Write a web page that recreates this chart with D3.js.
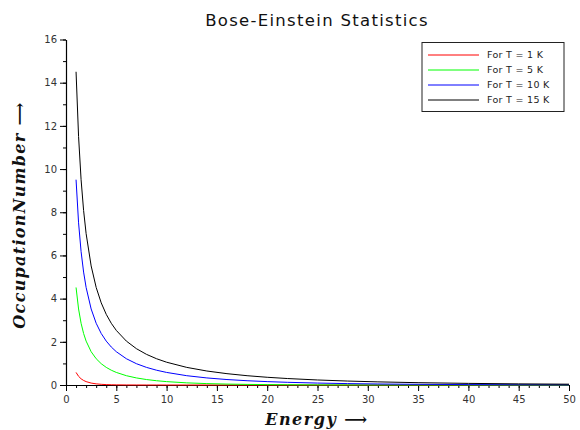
<!DOCTYPE html>
<html><head><meta charset="utf-8">
<script src="https://cdn.jsdelivr.net/npm/d3@7"></script>
<style>body{margin:0;background:#fff}svg{display:block}</style>
</head><body>
<svg id="c" width="580" height="430"></svg>
<script>
const energies = [1,1.25,1.5,1.75,2,2.5,3,3.5,4,4.5,5,6,7,8,9,10,12,14,16,18,20,22,25,28,31,35,40,45,50];
const seriesNames = ["For T = 1 K","For T = 5 K","For T = 10 K","For T = 15 K"];
const seriesColors = ["#ff0000","#00ff00","#0000ff","#000000"];
const valuesT1  = [0.5820,0.4016,0.2872,0.2103,0.1565,0.0894,0.0524,0.0311,0.0187,0.0112,0.0068,0.0025,0.0009,0.0003,0.0001,0,0,0,0,0,0,0,0,0,0,0,0,0,0];
const valuesT5  = [4.5167,3.5208,2.8583,2.3862,2.0332,1.5415,1.2165,0.9864,0.8160,0.6851,0.5820,0.4310,0.3273,0.2530,0.1980,0.1565,0.0998,0.0647,0.0425,0.0281,0.0187,0.0124,0.0068,0.0037,0.0020,0.0009,0.0003,0.0001,0];
const valuesT10 = [9.5083,7.5104,6.1792,5.2289,4.5167,3.5208,2.8583,2.3862,2.0332,1.7596,1.5415,1.2165,0.9864,0.8160,0.6851,0.5820,0.4310,0.3273,0.2530,0.1980,0.1565,0.1246,0.0894,0.0647,0.0472,0.0311,0.0187,0.0112,0.0068];
const valuesT15 = [14.5056,11.507,9.5083,8.0811,7.0110,5.5139,4.5167,3.8051,3.2722,2.8583,2.5277,2.0332,1.6817,1.4191,1.2165,1.0552,0.8160,0.6481,0.5248,0.4310,0.3579,0.2999,0.2329,0.1829,0.1450,0.1074,0.0747,0.0524,0.0370];
const xTicks = [0,5,10,15,20,25,30,35,40,45,50];
const yTicks = [0,2,4,6,8,10,12,14,16];

const allSeries = [valuesT1,valuesT5,valuesT10,valuesT15];
const svg = d3.select("#c");
const x = d3.scaleLinear().domain([0,50]).range([66,569]);
const y = d3.scaleLinear().domain([0,16]).range([385,39.5]);
const tickColor = "#333";

const xAxisMinor = d3.axisBottom(x).tickValues(d3.range(0,51,1)).tickSize(3).tickFormat("");
const yAxisMinor = d3.axisLeft(y).tickValues(d3.range(0,17,1)).tickSize(3).tickFormat("");
svg.append("g").attr("transform",`translate(0,${y(0)})`).call(xAxisMinor).call(g=>g.select(".domain").remove());
svg.append("g").attr("transform",`translate(${x(0)},0)`).call(yAxisMinor).call(g=>g.select(".domain").remove());

const xAxis = d3.axisBottom(x).tickValues(xTicks).tickSize(6).tickSizeOuter(0);
const yAxis = d3.axisLeft(y).tickValues(yTicks).tickSize(6).tickSizeOuter(0);
const gx = svg.append("g").attr("transform",`translate(0,${y(0)})`).call(xAxis);
const gy = svg.append("g").attr("transform",`translate(${x(0)},0)`).call(yAxis);
[gx,gy].forEach(g=>{
  g.selectAll("text").attr("font-family","DejaVu Sans").attr("font-size","10px").attr("fill",tickColor);
  g.selectAll("line").attr("stroke","#000");
  g.select(".domain").attr("stroke","#000").attr("stroke-width",1.2);
});
gx.selectAll("text").attr("dy","0.85em");

const line = d3.line().x((d,i)=>x(energies[i])).y(d=>y(d));
allSeries.forEach((vals,k)=>{
  svg.append("path").datum(vals).attr("d",line).attr("fill","none")
    .attr("stroke",seriesColors[k]).attr("stroke-width",1);
});

svg.append("text").attr("x",317).attr("y",26).attr("text-anchor","middle")
  .attr("font-family","DejaVu Sans").attr("font-size","16.5px").attr("letter-spacing","1.3px").attr("fill","#111")
  .text("Bose-Einstein Statistics");

svg.append("text").attr("x",317).attr("y",425).attr("text-anchor","middle")
  .attr("font-family","DejaVu Serif").attr("font-style","italic").attr("font-weight","bold")
  .attr("font-size","16px").attr("letter-spacing","1.5px").attr("fill","#111").text("Energy ⟶");

svg.append("text").attr("transform","translate(25,215) rotate(-90)").attr("text-anchor","middle")
  .attr("font-family","DejaVu Serif").attr("font-style","italic").attr("font-weight","bold")
  .attr("font-size","16px").attr("letter-spacing","1.3px").attr("fill","#111").text("OccupationNumber ⟶");

const lg = svg.append("g");
lg.append("rect").attr("x",422).attr("y",42.5).attr("width",142).attr("height",69)
  .attr("fill","#fff").attr("stroke","#222").attr("stroke-width",1);
seriesNames.forEach((n,k)=>{
  const yy = 55 + k*15;
  lg.append("line").attr("x1",428).attr("x2",479).attr("y1",yy).attr("y2",yy)
    .attr("stroke",seriesColors[k]).attr("stroke-width",1);
  lg.append("text").attr("x",487).attr("y",yy).attr("dy","0.35em")
    .attr("font-family","DejaVu Sans").attr("font-size","9.5px").attr("letter-spacing","0.3px").attr("fill","#222").text(n);
});
</script>
</body></html>
